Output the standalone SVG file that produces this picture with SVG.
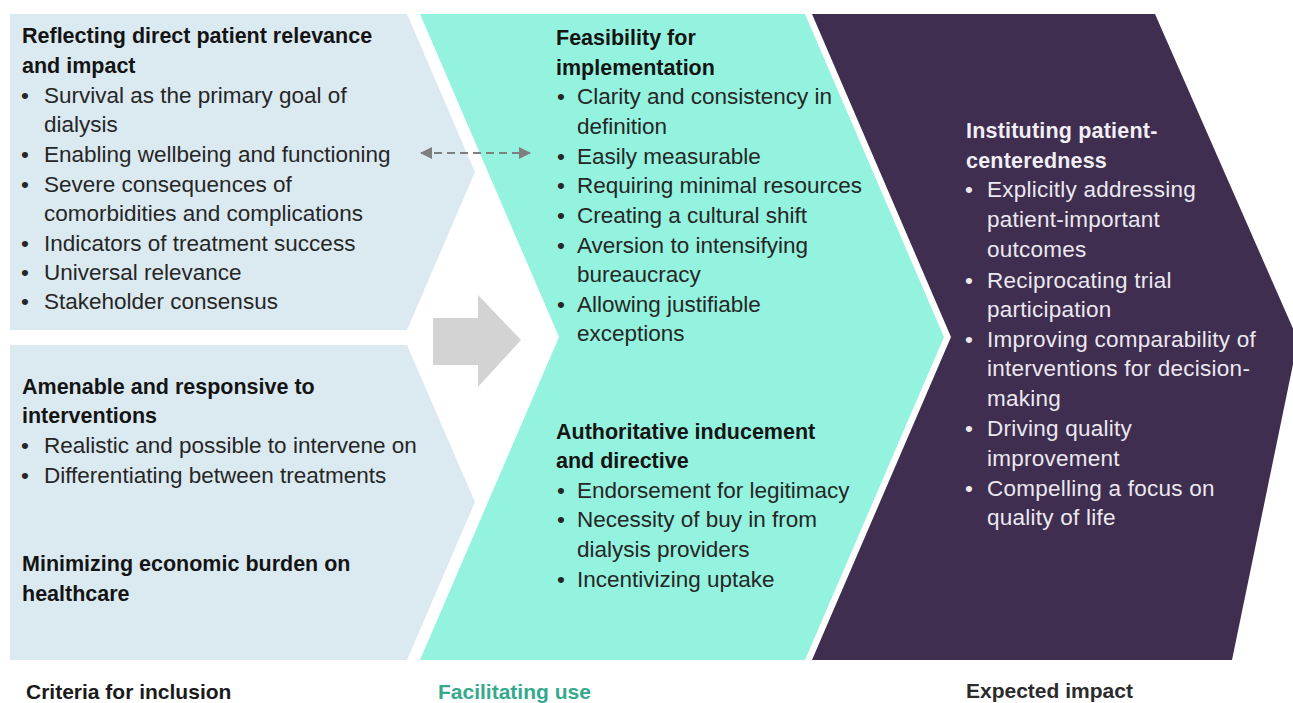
<svg xmlns="http://www.w3.org/2000/svg" width="1293" height="703" viewBox="0 0 1293 703">
<style>
text{font-family:"Liberation Sans",Arial,sans-serif}
.h{font-weight:bold;font-size:21.5px;fill:#141414}
.b{font-size:22.5px;fill:#262626}
.hw{font-weight:bold;font-size:21.5px;fill:#f2eef5;letter-spacing:0.2px}
.bw{font-size:22.5px;fill:#ece8f0;letter-spacing:0.25px}
.lab{font-weight:bold;font-size:21px}
</style>
<defs>
<marker id="ah" viewBox="0 0 12 12" refX="11" refY="6" markerWidth="12" markerHeight="12" markerUnits="userSpaceOnUse" orient="auto-start-reverse">
<path d="M0,0 L12,6 L0,12 Z" fill="#7f7f7f"/>
</marker>
</defs>
<rect width="1293" height="703" fill="#ffffff"/>
<g id="criteria-top">
<polygon points="10,14 407,14 475,172 407,330 10,330" fill="#dbeaf1"/>
<text class="h" x="22" y="43">Reflecting direct patient relevance</text>
<text class="h" x="22" y="73">and impact</text>
<text class="b"><tspan x="21" y="103">•</tspan><tspan x="44" y="103">Survival as the primary goal of</tspan><tspan x="44" y="132">dialysis</tspan><tspan x="21" y="162">•</tspan><tspan x="44" y="162">Enabling wellbeing and functioning</tspan><tspan x="21" y="192">•</tspan><tspan x="44" y="192">Severe consequences of</tspan><tspan x="44" y="221">comorbidities and complications</tspan><tspan x="21" y="251">•</tspan><tspan x="44" y="251">Indicators of treatment success</tspan><tspan x="21" y="280">•</tspan><tspan x="44" y="280">Universal relevance</tspan><tspan x="21" y="309">•</tspan><tspan x="44" y="309">Stakeholder consensus</tspan></text>
</g>
<g id="criteria-bottom">
<polygon points="10,345 407,345 475,502 407,660 10,660" fill="#dbeaf1"/>
<text class="h" x="22" y="394">Amenable and responsive to</text>
<text class="h" x="22" y="423">interventions</text>
<text class="b"><tspan x="21" y="453">•</tspan><tspan x="44" y="453">Realistic and possible to intervene on</tspan><tspan x="21" y="483">•</tspan><tspan x="44" y="483">Differentiating between treatments</tspan></text>
<text class="h" x="22" y="571">Minimizing economic burden on</text>
<text class="h" x="22" y="601">healthcare</text>
</g>
<g id="facilitating">
<polygon points="420,14 805,14 944,337 805,660 420,660 559,337" fill="#93f3de"/>
<text class="h" x="556" y="45">Feasibility for</text>
<text class="h" x="556" y="75">implementation</text>
<text class="b"><tspan x="557" y="104">•</tspan><tspan x="577" y="104">Clarity and consistency in</tspan><tspan x="577" y="134">definition</tspan><tspan x="557" y="164">•</tspan><tspan x="577" y="164">Easily measurable</tspan><tspan x="557" y="193">•</tspan><tspan x="577" y="193">Requiring minimal resources</tspan><tspan x="557" y="223">•</tspan><tspan x="577" y="223">Creating a cultural shift</tspan><tspan x="557" y="253">•</tspan><tspan x="577" y="253">Aversion to intensifying</tspan><tspan x="577" y="282">bureaucracy</tspan><tspan x="557" y="312">•</tspan><tspan x="577" y="312">Allowing justifiable</tspan><tspan x="577" y="341">exceptions</tspan></text>
<text class="h" x="556" y="439">Authoritative inducement</text>
<text class="h" x="556" y="468">and directive</text>
<text class="b"><tspan x="557" y="498">•</tspan><tspan x="577" y="498">Endorsement for legitimacy</tspan><tspan x="557" y="527">•</tspan><tspan x="577" y="527">Necessity of buy in from</tspan><tspan x="577" y="557">dialysis providers</tspan><tspan x="557" y="587">•</tspan><tspan x="577" y="587">Incentivizing uptake</tspan></text>
</g>
<g id="impact">
<polygon points="812,14 1155,14 1298,340 1232,660 812,660 951,337" fill="#3f2e4f"/>
<text class="hw" x="966" y="138">Instituting patient-</text>
<text class="hw" x="966" y="168">centeredness</text>
<text class="bw"><tspan x="965" y="197">•</tspan><tspan x="987" y="197">Explicitly addressing</tspan><tspan x="987" y="227">patient-important</tspan><tspan x="987" y="257">outcomes</tspan><tspan x="965" y="288">•</tspan><tspan x="987" y="288">Reciprocating trial</tspan><tspan x="987" y="317">participation</tspan><tspan x="965" y="347">•</tspan><tspan x="987" y="347">Improving comparability of</tspan><tspan x="987" y="376">interventions for decision-</tspan><tspan x="987" y="406">making</tspan><tspan x="965" y="436">•</tspan><tspan x="987" y="436">Driving quality</tspan><tspan x="987" y="466">improvement</tspan><tspan x="965" y="496">•</tspan><tspan x="987" y="496">Compelling a focus on</tspan><tspan x="987" y="525">quality of life</tspan></text>
</g>
<g id="flow-arrow">
<polygon points="433,318 478,318 478,295 521,340 478,387 478,365 433,365" fill="#d3d3d3"/>
</g>
<g id="connectors">
<line x1="421" y1="153" x2="530" y2="153" stroke="#7f7f7f" stroke-width="2" stroke-dasharray="8,5" marker-start="url(#ah)" marker-end="url(#ah)"/>
</g>
<g id="labels">
<text class="lab" x="26" y="699" fill="#1a1a1a">Criteria for inclusion</text>
<text class="lab" x="438" y="699" fill="#35a98e">Facilitating use</text>
<text class="lab" x="966" y="698" fill="#2b2b2b">Expected impact</text>
</g>
</svg>
